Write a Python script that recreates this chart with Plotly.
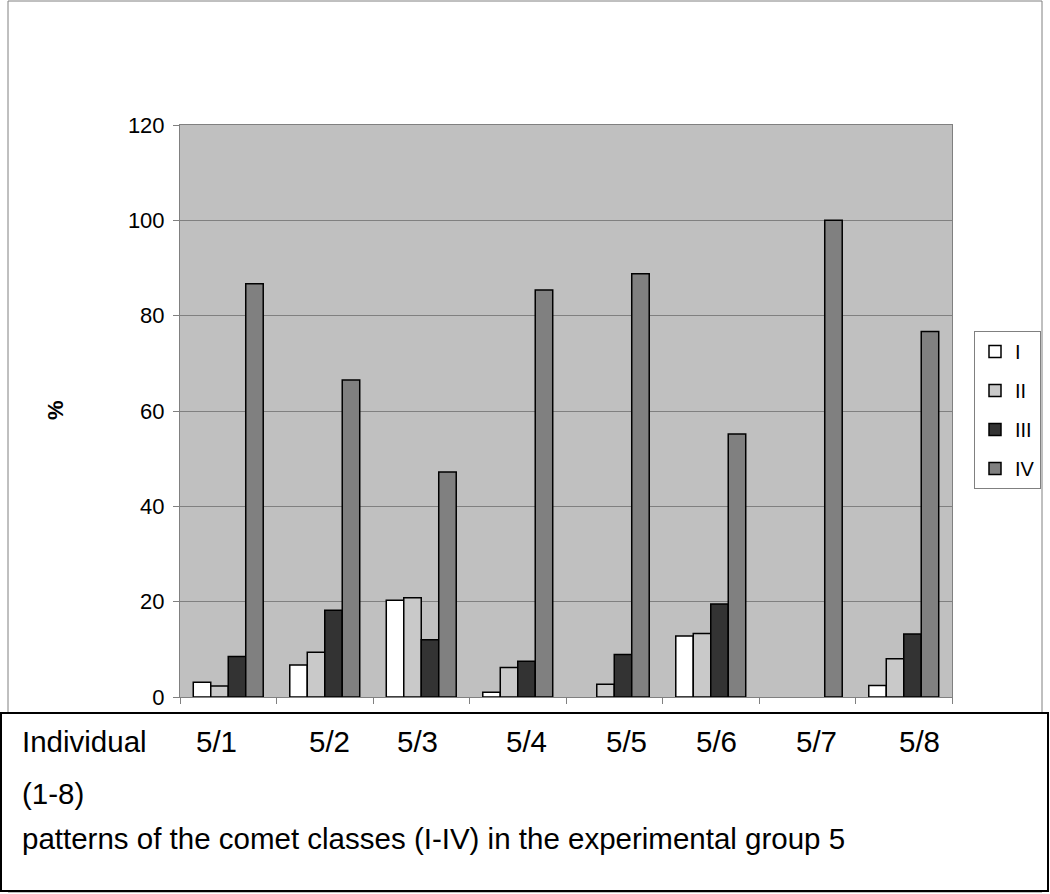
import plotly.graph_objects as go

categories = ["5/1", "5/2", "5/3", "5/4", "5/5", "5/6", "5/7", "5/8"]
series_names = ["I", "II", "III", "IV"]
class_I = [3.1, 6.7, 20.3, 1.0, 0.0, 12.8, 0.0, 2.4]
class_II = [2.3, 9.4, 20.8, 6.2, 2.7, 13.3, 0.0, 8.0]
class_III = [8.5, 18.2, 12.0, 7.5, 8.9, 19.5, 0.0, 13.2]
class_IV = [86.7, 66.5, 47.2, 85.4, 88.8, 55.2, 100.0, 76.7]
y_ticks = [0, 20, 40, 60, 80, 100, 120]
colors = ["#ffffff", "#c9c9c9", "#333333", "#808080"]

W, H = 1050, 894
L, R, T, B = 180, 952, 125, 697


def px(x):
    return (x - L) / (R - L)


def py(y):
    return (B - y) / (B - T)


fig = go.Figure()
for i, (name, vals) in enumerate(zip(series_names, [class_I, class_II, class_III, class_IV])):
    fig.add_trace(go.Bar(
        x=categories, y=vals, name=name, legendgroup=name,
        marker=dict(color=colors[i],
                    line=dict(color="#000000", width=[1.5 if v > 0 else 0 for v in vals])),
    ))

font = "Liberation Sans, Arial, sans-serif"
tsize = 29.5

annotations = []
annotations.append(dict(text="Individual", x=px(20), y=py(741), xref="paper", yref="paper",
                        xanchor="left", yanchor="middle", showarrow=False,
                        font=dict(family=font, size=tsize, color="#000")))
label_x = [194, 307, 395, 504, 604, 694, 794, 897]
for c, lx in zip(categories, label_x):
    annotations.append(dict(text=c, x=px(lx), y=py(741), xref="paper", yref="paper",
                            xanchor="left", yanchor="middle", showarrow=False,
                            font=dict(family=font, size=tsize, color="#000")))
annotations.append(dict(text="(1-8)", x=px(20), y=py(793), xref="paper", yref="paper",
                        xanchor="left", yanchor="middle", showarrow=False,
                        font=dict(family=font, size=tsize, color="#000")))
annotations.append(dict(text="patterns of the comet classes (I-IV) in the experimental group 5",
                        x=px(20), y=py(838), xref="paper", yref="paper",
                        xanchor="left", yanchor="middle", showarrow=False,
                        font=dict(family=font, size=tsize, color="#000")))
annotations.append(dict(text="<b>%</b>", x=px(55), y=py(410), xref="paper", yref="paper",
                        xanchor="center", yanchor="middle", showarrow=False, textangle=-90,
                        font=dict(family=font, size=22, color="#000")))

shapes = [
    dict(type="rect", xref="paper", yref="paper", x0=px(8), x1=px(1042), y0=py(892), y1=py(1),
         line=dict(color="#808080", width=1), fillcolor="rgba(0,0,0,0)", layer="below"),
    dict(type="rect", xref="paper", yref="paper", x0=px(1), x1=px(1048), y0=py(891), y1=py(713),
         line=dict(color="#000000", width=2), fillcolor="#ffffff", layer="above"),
]

fig.update_layout(
    width=W, height=H,
    margin=dict(l=L, r=W - R, t=T, b=H - B, autoexpand=False),
    paper_bgcolor="#ffffff", plot_bgcolor="#c0c0c0",
    barmode="group", bargap=0.275, bargroupgap=0,
    font=dict(family=font, color="#000"),
    showlegend=True,
    legend=dict(x=px(974), y=py(331), xanchor="left", yanchor="top",
                bordercolor="#808080", borderwidth=1, bgcolor="#ffffff",
                font=dict(family=font, size=20, color="#000"),
                traceorder="grouped", tracegroupgap=10, itemwidth=30),
    xaxis=dict(type="category", showticklabels=False, ticks="outside", tickson="boundaries",
               ticklen=6, tickcolor="#808080", showline=True, linecolor="#808080", linewidth=1,
               mirror=True, showgrid=False),
    yaxis=dict(range=[0, 120], tickvals=y_ticks, ticks="outside", ticklen=6, tickcolor="#808080",
               showline=True, linecolor="#808080", linewidth=1, mirror=True,
               showgrid=True, gridcolor="#808080", gridwidth=1, zeroline=False,
               ticklabelstandoff=4,
               tickfont=dict(family=font, size=22, color="#000")),
    annotations=annotations, shapes=shapes,
)

fig.write_html("out.html", config={"displayModeBar": False},
               post_script="document.body.style.margin='0';document.body.style.overflow='hidden';")
